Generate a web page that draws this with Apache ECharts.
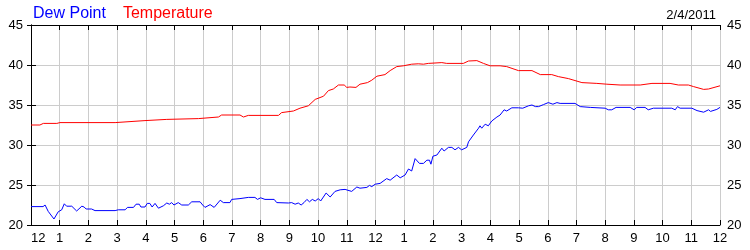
<!DOCTYPE html>
<html>
<head>
<meta charset="utf-8">
<script src="https://cdn.jsdelivr.net/npm/echarts@6/dist/echarts.min.js"></script>
<style>html,body{margin:0;padding:0;background:#fff}#c{width:750px;height:250px}</style>
</head>
<body>
<div id="c"></div>
<script>
var hourTicks = [12,1,2,3,4,5,6,7,8,9,10,11,12,1,2,3,4,5,6,7,8,9,10,11,12];
var dateLabel = '2/4/2011';
var seriesNames = ['Dew Point', 'Temperature'];

var dewHours = [0,0.42,0.49,0.60,0.80,0.95,1.07,1.16,1.24,1.42,1.59,1.77,1.85,1.92,2.11,2.23,2.93,3.04,3.28,3.36,3.57,3.66,3.77,3.83,3.97,4.05,4.14,4.22,4.32,4.44,4.61,4.73,4.82,4.90,4.98,5.13,5.25,5.48,5.60,5.89,5.98,6.06,6.24,6.38,6.59,6.70,6.93,6.99,7.28,7.57,7.80,7.89,8.00,8.15,8.47,8.56,8.97,9.08,9.20,9.31,9.41,9.51,9.61,9.70,9.80,9.90,10.01,10.09,10.28,10.42,10.59,10.77,10.94,11.00,11.17,11.35,11.46,11.70,11.79,11.87,11.99,12.16,12.39,12.51,12.74,12.86,13.03,13.15,13.26,13.38,13.44,13.53,13.67,13.79,13.88,13.93,14.00,14.14,14.31,14.39,14.54,14.66,14.77,14.89,15.00,15.06,15.18,15.24,15.41,15.59,15.64,15.70,15.82,15.93,16.05,16.23,16.34,16.48,16.57,16.75,16.98,17.13,17.33,17.45,17.57,17.62,17.68,17.85,17.91,18.02,18.08,18.18,18.32,18.43,18.95,19.13,19.48,20.00,20.11,20.23,20.38,20.87,21.01,21.10,21.39,21.50,21.68,22.32,22.44,22.52,22.61,23.02,23.20,23.43,23.60,23.67,23.89,24.00];
var dewValues = [22.3,22.3,22.5,21.7,20.75,21.66,21.9,22.65,22.35,22.35,21.75,22.35,22.25,22.0,22.0,21.8,21.8,21.9,21.9,22.2,22.2,22.6,22.6,22.25,22.25,22.7,22.7,22.25,22.7,22.1,22.4,22.75,22.6,22.8,22.5,22.8,22.5,22.5,22.9,22.9,22.5,22.2,22.55,22.2,23.1,22.8,22.8,23.2,23.3,23.45,23.45,23.2,23.4,23.2,23.2,22.8,22.75,22.8,22.6,22.75,22.5,22.8,23.2,22.9,23.2,23.0,23.3,23.0,24.0,23.5,24.2,24.4,24.45,24.7,24.2,24.75,24.6,24.7,24.95,24.8,25.1,25.2,25.8,25.6,26.25,25.9,26.25,27.0,26.75,28.3,28.4,27.7,27.7,28.1,28.1,27.6,28.6,28.75,29.6,29.25,29.7,29.7,29.4,29.7,29.4,29.6,29.7,30.4,31.25,32.1,32.4,32.1,32.6,32.4,33.0,33.5,33.75,34.4,34.25,34.65,34.65,34.6,34.9,35.0,34.8,35.05,34.8,35.05,35.2,35.3,35.55,35.1,35.3,35.2,35.2,34.8,34.7,34.6,34.4,34.4,34.7,34.7,34.4,34.7,34.7,34.4,34.6,34.6,34.4,34.8,34.6,34.6,34.3,34.1,34.4,34.2,34.45,34.7];

var tempHours = [0,0.31,0.43,0.90,1.01,2.93,2.99,3.97,4.03,4.73,4.78,5.83,5.89,6.53,6.64,7.28,7.40,7.57,8.62,8.73,9.14,9.37,9.66,9.90,10.19,10.36,10.53,10.71,10.91,11.00,11.11,11.32,11.46,11.72,11.87,12.05,12.33,12.51,12.74,12.97,13.26,13.49,13.67,13.84,14.31,14.48,15.06,15.24,15.53,15.76,15.99,16.34,16.57,16.98,17.45,17.74,18.14,18.37,18.72,19.19,19.71,20.06,20.52,21.22,21.63,22.26,22.55,22.90,23.08,23.43,23.60,24.00];
var tempValues = [32.5,32.5,32.7,32.7,32.8,32.8,33.05,33.05,33.2,33.2,33.3,33.3,33.5,33.5,33.75,33.75,33.5,33.7,33.7,34.05,34.25,34.6,34.9,35.7,36.1,36.8,37.0,37.5,37.5,37.2,37.25,37.2,37.6,37.8,38.1,38.6,38.8,39.3,39.8,39.9,40.1,40.15,40.1,40.2,40.3,40.2,40.2,40.5,40.55,40.2,39.9,39.9,39.8,39.3,39.3,38.8,38.8,38.55,38.3,37.8,37.7,37.6,37.5,37.5,37.7,37.7,37.5,37.5,37.3,36.95,37.0,37.4];

function pairs(xs, ys) { return xs.map(function (x, i) { return [x, ys[i]]; }); }

var FONT = 'Liberation Sans, Arial, sans-serif';
var chart = echarts.init(document.getElementById('c'), null, {renderer: 'canvas'});
var yCommon = {
  type: 'value', min: 20, max: 45, interval: 5,
  axisLine: {show: true, lineStyle: {color: '#000', width: 1}},
  axisTick: {show: true, inside: false, length: 4, lineStyle: {color: '#000'}},
  axisLabel: {fontSize: 13, color: '#000', fontFamily: FONT, margin: 8}
};
chart.setOption({
  animation: false,
  backgroundColor: '#fff',
  textStyle: {fontFamily: FONT},
  title: {
    text: dateLabel, right: 29, top: 4,
    textStyle: {fontSize: 13, fontWeight: 'normal', color: '#000', fontFamily: FONT}
  },
  legend: {
    left: 23, top: 1, icon: 'none', itemWidth: 0, itemGap: 12, selectedMode: false,
    textStyle: {fontSize: 16, fontFamily: FONT},
    data: [
      {name: seriesNames[0], textStyle: {color: '#0000ff'}},
      {name: seriesNames[1], textStyle: {color: '#ff0000'}}
    ]
  },
  grid: {left: 31, right: 30, top: 25, bottom: 25, containLabel: false},
  xAxis: [
    {
      type: 'value', min: 0, max: 24, interval: 1, position: 'bottom',
      axisLine: {show: true, onZero: false, lineStyle: {color: '#000', width: 1}},
      axisTick: {show: true, inside: true, length: 5, lineStyle: {color: '#000'}},
      splitLine: {show: true, lineStyle: {color: '#cccccc', width: 1}},
      axisLabel: {
        fontSize: 13, color: '#000', fontFamily: FONT, margin: 7,
        alignMinLabel: 'left',
        formatter: function (v) { return String(hourTicks[Math.round(v)]); }
      }
    },
    {
      type: 'value', min: 0, max: 24, interval: 1, position: 'top',
      axisLine: {show: true, onZero: false, lineStyle: {color: '#000', width: 1}},
      axisTick: {show: true, inside: true, length: 5, lineStyle: {color: '#000'}},
      splitLine: {show: false},
      axisLabel: {show: false}
    }
  ],
  yAxis: [
    Object.assign({}, yCommon, {position: 'left', splitLine: {show: true, lineStyle: {color: '#cccccc', width: 1}}}),
    Object.assign({}, yCommon, {position: 'right', axisTick: {show: true, inside: false, length: 5, lineStyle: {color: '#000'}}, splitLine: {show: false}, axisLabel: {fontSize: 13, color: '#000', fontFamily: FONT, margin: 7}})
  ],
  series: [
    {
      name: seriesNames[0], type: 'line', xAxisIndex: 0, yAxisIndex: 0,
      data: pairs(dewHours, dewValues), showSymbol: false, symbol: 'none',
      lineStyle: {color: '#0000ff', width: 1}, itemStyle: {color: '#0000ff'}
    },
    {
      name: seriesNames[1], type: 'line', xAxisIndex: 0, yAxisIndex: 0,
      data: pairs(tempHours, tempValues), showSymbol: false, symbol: 'none',
      lineStyle: {color: '#ff0000', width: 1}, itemStyle: {color: '#ff0000'}
    }
  ]
});
</script>
</body>
</html>
